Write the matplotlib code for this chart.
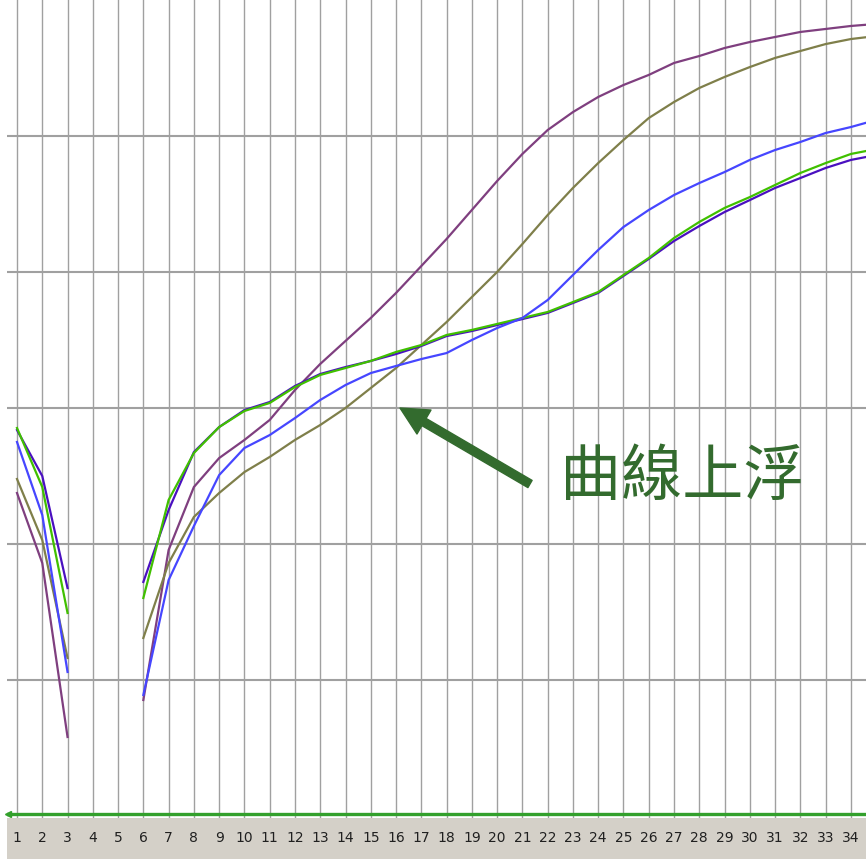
import matplotlib
matplotlib.use("Agg")
import matplotlib.pyplot as plt
import numpy as np

# amplification curves, one value per cycle (None = no reading)
cycles = list(range(1, 36))

indigo = [2.838, 2.500, 1.676, None, None, 1.721, 2.250, 2.676, 2.860, 2.985,
          3.044, 3.162, 3.250, 3.301, 3.346, 3.397, 3.456, 3.529, 3.566, 3.610,
          3.654, 3.699, 3.772, 3.846, 3.971, 4.096, 4.228, 4.338, 4.441, 4.529,
          4.618, 4.691, 4.765, 4.824, 4.860]
green = [2.853, 2.419, 1.493, None, None, 1.603, 2.324, 2.669, 2.860, 2.978,
         3.037, 3.154, 3.243, 3.294, 3.346, 3.412, 3.463, 3.537, 3.574, 3.618,
         3.662, 3.706, 3.779, 3.853, 3.978, 4.103, 4.250, 4.368, 4.471, 4.551,
         4.640, 4.728, 4.801, 4.868, 4.904]
blue = [2.750, 2.213, 1.059, None, None, 0.890, 1.735, 2.132, 2.507, 2.706,
        2.801, 2.926, 3.059, 3.169, 3.257, 3.309, 3.360, 3.404, 3.500, 3.588,
        3.662, 3.794, 3.978, 4.162, 4.331, 4.456, 4.566, 4.654, 4.735, 4.824,
        4.897, 4.956, 5.022, 5.066, 5.118]
olive = [2.478, 2.029, 1.162, None, None, 1.309, 1.860, 2.199, 2.375, 2.529,
         2.640, 2.765, 2.875, 3.000, 3.147, 3.294, 3.463, 3.632, 3.816, 4.000,
         4.206, 4.419, 4.618, 4.801, 4.971, 5.132, 5.250, 5.353, 5.434, 5.507,
         5.574, 5.625, 5.676, 5.713, 5.735]
purple = [2.375, 1.860, 0.581, None, None, 0.853, 1.956, 2.419, 2.632, 2.765,
          2.912, 3.132, 3.324, 3.493, 3.662, 3.846, 4.044, 4.243, 4.456, 4.669,
          4.868, 5.044, 5.176, 5.287, 5.375, 5.449, 5.537, 5.588, 5.647, 5.691,
          5.728, 5.765, 5.787, 5.809, 5.824]

tick_labels = [str(c) for c in range(1, 35)]

W, H = 866, 859
step = 25.27  # pixels per cycle

fig = plt.figure(figsize=(W / 100, H / 100), dpi=100)
fig.patch.set_facecolor("white")

ax = fig.add_axes([7 / W, 41 / H, (W - 7) / W, 818 / H])
xlo = 1 + (7 - 17) / step
xhi = 1 + (W - 17) / step
ax.set_xlim(xlo, xhi)
ax.set_ylim(-2 / 136, 816 / 136)
for s in ax.spines.values():
    s.set_visible(False)
ax.set_xticks([])
ax.set_yticks([])

# grid
for c in range(1, 35):
    ax.axvline(c, color="#a0a0a0", lw=1.0, zorder=1)
for g in range(1, 6):
    ax.axhline(g, color="#a0a0a0", lw=1.5, zorder=1)

def arr(v):
    return np.array([np.nan if x is None else x for x in v], dtype=float)

ax.plot(cycles, arr(purple), color="#7f3f7f", lw=1.6, zorder=3)
ax.plot(cycles, arr(olive), color="#7f7f4a", lw=1.6, zorder=3)
ax.plot(cycles, arr(indigo), color="#4a10c0", lw=1.6, zorder=3)
ax.plot(cycles, arr(green), color="#40c000", lw=1.6, zorder=4)
ax.plot(cycles, arr(blue), color="#4646ff", lw=1.6, zorder=4)

# baseline
ax.axhline(0.015, color="#33a02c", lw=2.4, zorder=5)
ax.plot([xlo + 0.02], [0.015], marker="<", color="#33a02c", ms=5, zorder=6,
        clip_on=False)

# annotation
hx = 1 + (400 - 17) / step
hy = (816 - 408) / 136
tx = 1 + (530 - 17) / step
ty = (816 - 484) / 136
ax.annotate("", xy=(hx, hy), xytext=(tx, ty),
            arrowprops=dict(arrowstyle="simple,head_length=1.0,head_width=1.0,tail_width=0.3",
                            color="#336b2e", mutation_scale=20, shrinkA=0, shrinkB=0),
            zorder=7)
fig.text(682 / W, 1 - 478 / H, "曲線上浮", ha="center", va="center",
         fontsize=44, color="#336b2e",
         family=["Noto Sans CJK TC", "DejaVu Sans"], fontweight="light")

# cycle strip
ax2 = fig.add_axes([7 / W, 0, (W - 7) / W, 41 / H])
ax2.set_facecolor("#d4d0c8")
ax2.set_xlim(xlo, xhi)
ax2.set_ylim(0, 1)
for s in ax2.spines.values():
    s.set_visible(False)
ax2.set_xticks([])
ax2.set_yticks([])
for i, lab in enumerate(tick_labels):
    ax2.text(i + 1, 0.5, lab, ha="center", va="center", fontsize=10,
             color="#202020", family=["Liberation Sans Narrow", "DejaVu Sans"])

fig.savefig("out.png", dpi=100)
